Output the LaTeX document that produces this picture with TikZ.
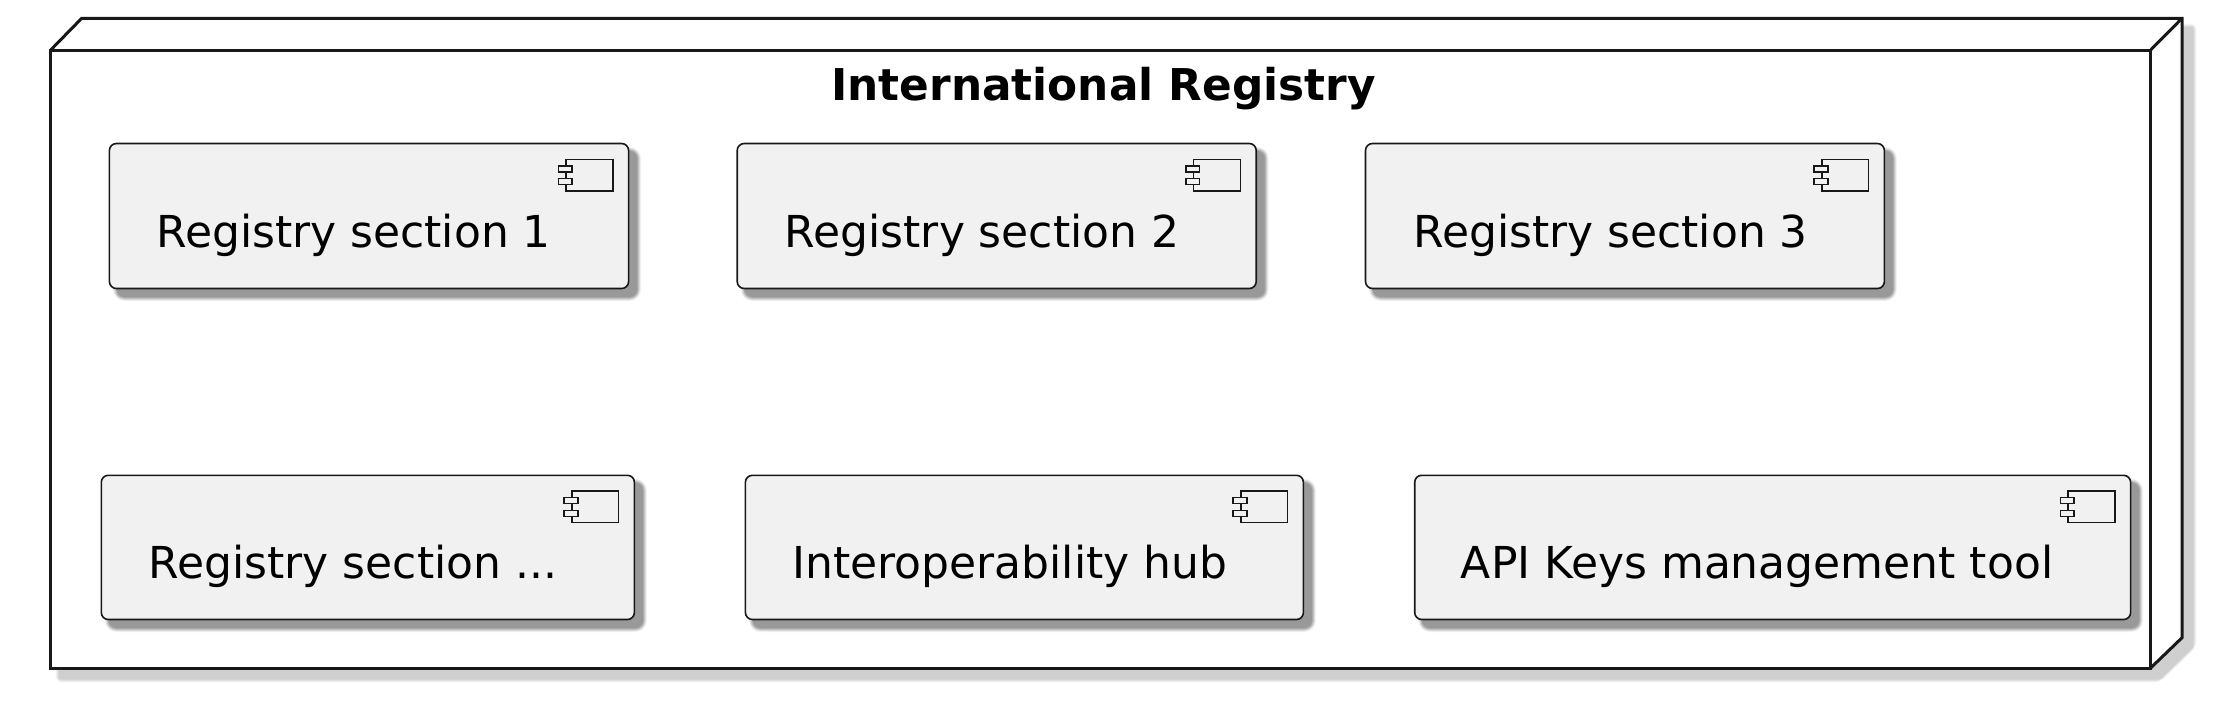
\documentclass[tikz,border=0pt]{standalone}
\usepackage{fontspec}
\setmainfont{DejaVu Sans}
\definecolor{edge}{HTML}{181818}
\definecolor{compfill}{HTML}{F1F1F1}
\tikzset{
  x=0.5pt,y=-0.5pt,
  regface/.style={draw=edge,fill=white,line width=1.5pt,inner sep=0pt,outer sep=0pt,line join=miter},
  regedge/.style={draw=edge,line width=1.5pt,line join=miter,line cap=butt},
  compbox/.style={draw=edge,fill=compfill,line width=0.8pt,rounded corners=3.5pt,inner sep=0pt,outer sep=0pt},
  compicon/.style={draw=edge,fill=compfill,line width=0.7pt},
  complabel/.style={anchor=base west,inner sep=0pt,text=black,font=\fontsize{22pt}{26pt}\selectfont},
  reglabel/.style={anchor=base west,inner sep=0pt,text=black,font=\fontsize{21.9pt}{26pt}\selectfont\bfseries},
}
% #1 name, #2 x1, #3 y1, #4 x2, #5 y2, #6 text x, #7 baseline y, #8 text
\newcommand{\compnode}[8]{%
  \foreach \d/\o in {4.5/0.05,3.5/0.09,2.5/0.11,1.5/0.12,0.5/0.10}{%
    \fill[black,fill opacity=\o,rounded corners=\d*0.5pt+3.5pt]
      ({#2+8-\d},{#3+8-\d}) rectangle ({#4+8+\d},{#5+8+\d});
  }
  \pgfmathsetlengthmacro{\compw}{(#4-#2)*0.5pt}
  \pgfmathsetlengthmacro{\comph}{(#5-#3)*0.5pt}
  \node[compbox,minimum width=\compw,minimum height=\comph] (#1) at ({(#2+#4)/2},{(#3+#5)/2}) {};
  \draw[compicon] ([shift={(-62.5,15.7)}]#1.north east) rectangle ([shift={(-15.7,47.4)}]#1.north east);
  \draw[compicon] ([shift={(-70.3,22.4)}]#1.north east) rectangle ([shift={(-56.5,28.4)}]#1.north east);
  \draw[compicon] ([shift={(-70.3,35)}]#1.north east) rectangle ([shift={(-56.5,41)}]#1.north east);
  \node[complabel] (#1label) at (#6,#7) {#8};
}
\begin{document}
\begin{tikzpicture}
\useasboundingbox (0,0) rectangle (2231,718);
% shadow of the registry node
\foreach \d/\o in {4.5/0.03,3.5/0.05,2.5/0.06,1.5/0.06}{
  \fill[black,fill opacity=\o,rounded corners=\d*0.5pt+0.5pt]
    ({60-\d},60) -- (92,{28-\d}) -- ({2192+\d},{28-\d}) -- ({2192+\d},647) -- (2160,{678+\d}) -- ({60-\d},{678+\d}) -- cycle;
}
% registry node: front face plus depth edges
\coordinate (backtl) at (81.7,18.3);
\coordinate (backtr) at (2182,18.3);
\coordinate (backbr) at (2182,637.7);
\fill[white] (50.4,50.3) -- (backtl) -- (backtr) -- (backbr) -- (2150.3,668.3) -- (50.4,668.3) -- cycle;
\node[regface,minimum width=1049.95pt,minimum height=309pt] (reg) at (1100.35,359.3) {};
\draw[regedge] (reg.north west) -- (backtl) -- (backtr) -- (backbr) -- (reg.south east);
\draw[regedge] (reg.north east) -- (backtr);
\node[reglabel] (regtitle) at (831,100) {International Registry};
\compnode{c1}{109.4}{143.5}{628.6}{288.5}{156}{247.5}{Registry section 1}
\compnode{c2}{737.2}{143.5}{1256.2}{288.5}{784.5}{247.5}{Registry section 2}
\compnode{c3}{1365.5}{143.5}{1884.4}{288.5}{1413}{247.5}{Registry section 3}
\compnode{c4}{101.3}{475.3}{634.4}{619.5}{148.4}{578}{Registry section ...}
\compnode{c5}{745.4}{475.3}{1303.4}{619.5}{792}{578}{Interoperability hub}
\compnode{c6}{1414.7}{475.3}{2130.6}{619.5}{1460.5}{578}{API Keys management tool}
\end{tikzpicture}
\end{document}
